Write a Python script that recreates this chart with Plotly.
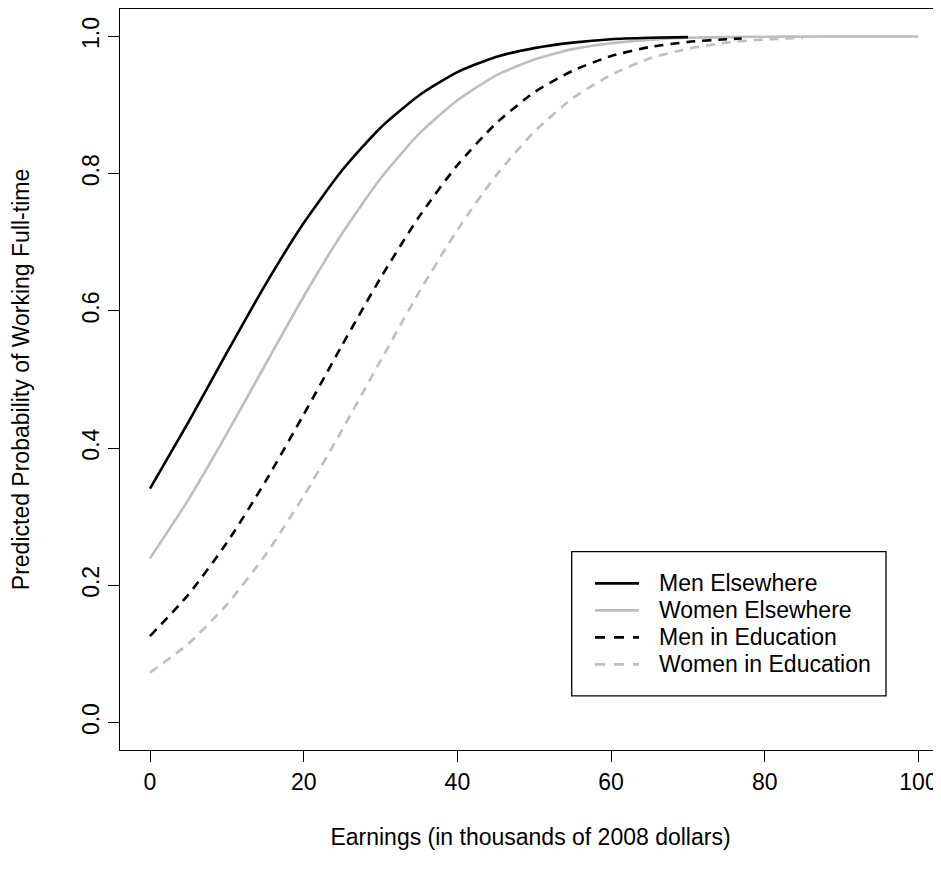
import plotly.graph_objects as go

# Earnings grid (thousands of 2008 dollars) for each fitted curve
earn_men_else = [0, 5, 10, 15, 20, 25, 30, 35, 40, 45, 50, 55, 60, 65, 70]
prob_men_else = [0.341, 0.438, 0.539, 0.638, 0.728, 0.805, 0.867, 0.914, 0.948,
                 0.970, 0.983, 0.991, 0.996, 0.998, 0.999]

earn_women_else = [0, 5, 10, 15, 20, 25, 30, 35, 40, 45, 50, 55, 60, 65, 70,
                   75, 80, 85, 90, 95, 100]
prob_women_else = [0.2395, 0.325, 0.421, 0.5215, 0.621, 0.713, 0.793, 0.858,
                   0.907, 0.943, 0.9665, 0.9815, 0.990, 0.995, 0.998, 0.999,
                   0.9996, 0.9998, 0.9999, 1.0, 1.0]

earn_men_edu = [0, 5, 10, 15, 20, 25, 30, 35, 40, 45, 50, 55, 60, 65, 70, 75, 77]
prob_men_edu = [0.126, 0.1865, 0.262, 0.351, 0.449, 0.550, 0.648, 0.737, 0.8125,
                0.873, 0.9185, 0.950, 0.9715, 0.9845, 0.992, 0.996, 0.997]

earn_women_edu = [0, 5, 10, 15, 20, 25, 30, 35, 40, 45, 50, 55, 60, 65, 70, 75,
                  80, 85]
prob_women_edu = [0.0728, 0.115, 0.172, 0.244, 0.330, 0.4265, 0.5275, 0.627,
                  0.718, 0.797, 0.861, 0.910, 0.944, 0.968, 0.982, 0.991,
                  0.9955, 0.998]

series_names = ["Men Elsewhere", "Women Elsewhere", "Men in Education",
                "Women in Education"]
x_ticks = [0, 20, 40, 60, 80, 100]
y_ticks = [0.0, 0.2, 0.4, 0.6, 0.8, 1.0]

GRAY = "#BEBEBE"
FONT = "Liberation Sans, Arial, sans-serif"
FS = 23
DASH = "9px,7px"

fig = go.Figure()
traces = [
    (earn_women_else, prob_women_else, series_names[1], GRAY, "solid"),
    (earn_men_else, prob_men_else, series_names[0], "black", "solid"),
    (earn_women_edu, prob_women_edu, series_names[3], GRAY, DASH),
    (earn_men_edu, prob_men_edu, series_names[2], "black", DASH),
]
for xs, ys, name, col, dash in traces:
    fig.add_trace(go.Scatter(
        x=xs, y=ys, mode="lines", name=name, showlegend=False,
        line=dict(color=col, width=2.6, dash=dash, shape="spline", smoothing=0.6),
    ))

# Layout geometry (page pixels; the page body adds an 8px offset)
OFF = 8
FIG_W, FIG_H = 933, 845
PL, PR = 120, 941          # plot area left/right on the page
PT, PB = 8.7, 750.2        # plot area top/bottom on the page
X0_PX, X100_PX = 150, 918.5
px_per = (X100_PX - X0_PX) / 100
x_lo = -(X0_PX - PL) / px_per
x_hi = (PR - X0_PX) / px_per


def fx(sx):
    return (sx - PL) / (PR - PL)


def fy(sy):
    return (PB - sy) / (PB - PT)


# Legend (drawn in the plot's paper coordinates)
leg_box = (571.7, 551.7, 886, 696)
leg_rows = [583.5, 610.5, 637.5, 664.5]
leg_styles = [("black", "solid"), (GRAY, "solid"), ("black", "10px,9px"),
              (GRAY, "10px,9px")]
shapes = [dict(type="rect", xref="paper", yref="paper",
               x0=fx(leg_box[0]), x1=fx(leg_box[2]),
               y0=fy(leg_box[3]), y1=fy(leg_box[1]),
               line=dict(color="black", width=1.3), fillcolor="white", layer="above")]
annotations = []
for row, name, (col, dash) in zip(leg_rows, series_names, leg_styles):
    shapes.append(dict(type="line", xref="paper", yref="paper",
                       x0=fx(595), x1=fx(639), y0=fy(row), y1=fy(row),
                       line=dict(color=col, width=2.6, dash=dash), layer="above"))
    annotations.append(dict(xref="paper", yref="paper", x=fx(657), y=fy(row),
                            text=name, showarrow=False, xanchor="left",
                            yanchor="middle",
                            font=dict(family=FONT, size=FS, color="black")))

fig.update_layout(
    width=FIG_W, height=FIG_H,
    margin=dict(l=PL - OFF, r=FIG_W - (PR - OFF), t=PT - OFF,
                b=FIG_H - (PB - OFF)),
    paper_bgcolor="white", plot_bgcolor="white",
    font=dict(family=FONT, size=FS, color="black"),
    showlegend=False,
    shapes=shapes, annotations=annotations,
    xaxis=dict(
        range=[x_lo, x_hi], tickvals=x_ticks, ticktext=[str(v) for v in x_ticks],
        showgrid=False, zeroline=False, showline=True, linecolor="black",
        linewidth=1.3, mirror=True, ticks="outside", ticklen=11, tickwidth=1.3,
        tickcolor="black", tickfont=dict(size=FS),
        title=dict(text="Earnings (in thousands of 2008 dollars)",
                   font=dict(size=FS), standoff=35),
    ),
    yaxis=dict(
        range=[-0.04, 1.04], tickvals=y_ticks, ticktext=[f"{v:.1f}" for v in y_ticks],
        tickangle=-90, showgrid=False, zeroline=False, showline=True,
        linecolor="black", linewidth=1.3, mirror=False, ticks="outside",
        ticklen=11, tickwidth=1.3, tickcolor="black", tickfont=dict(size=FS),
        title=dict(text="Predicted Probability of Working Full-time",
                   font=dict(size=FS), standoff=53),
    ),
)

fig.write_html("out.html")
